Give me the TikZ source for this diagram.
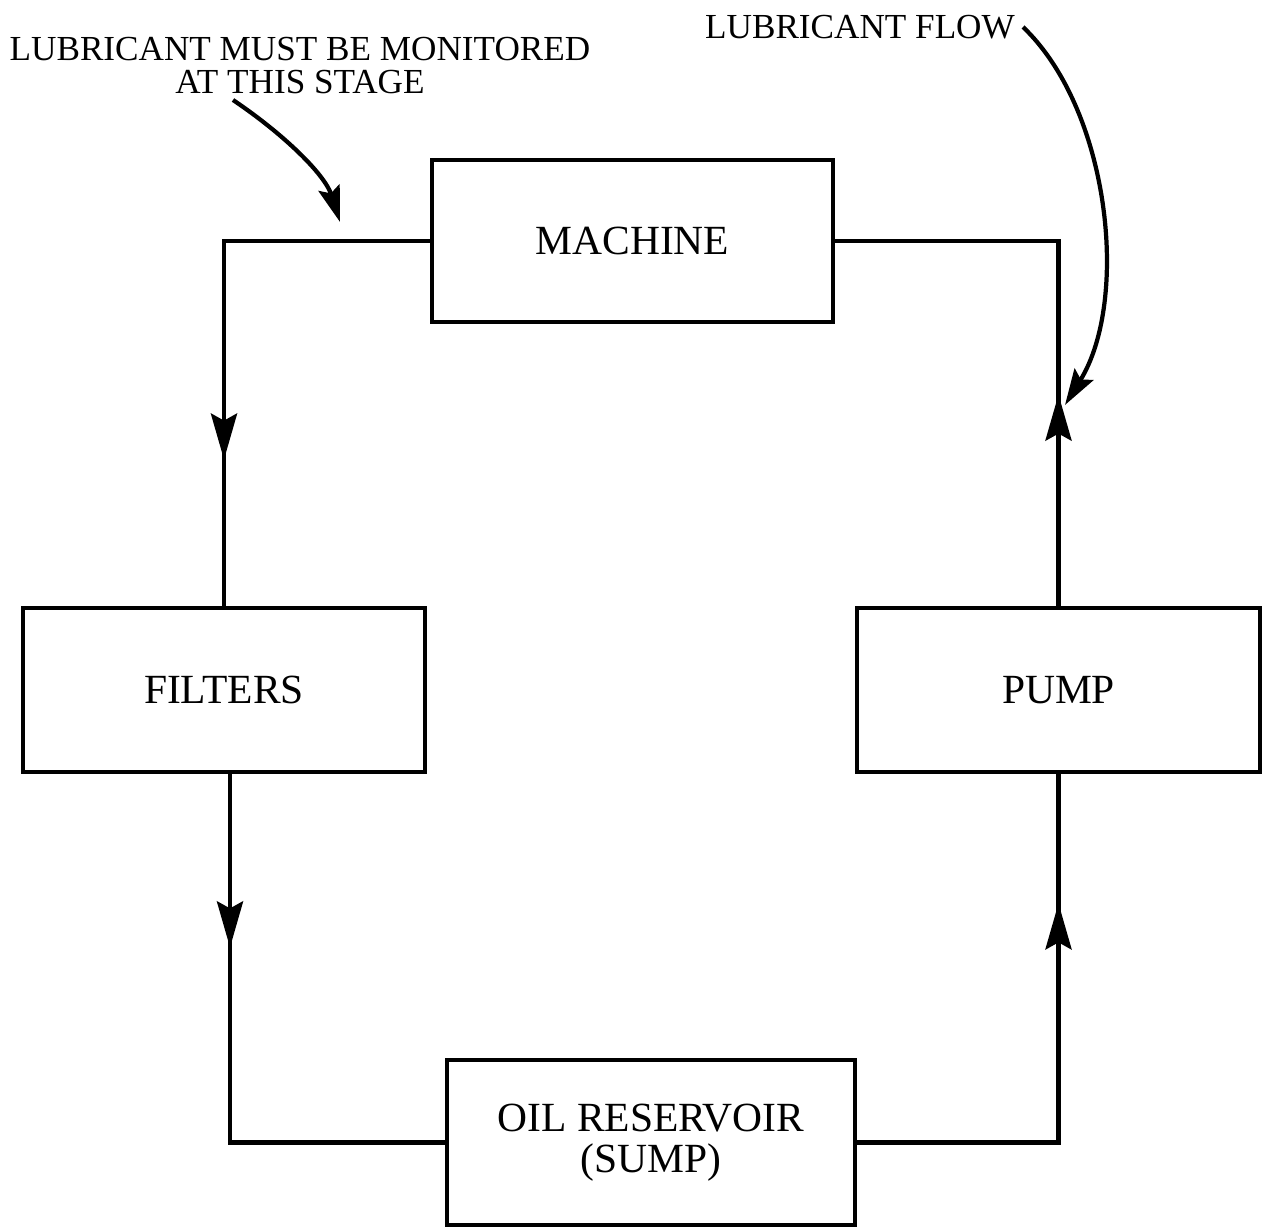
\documentclass[tikz,border=0pt]{standalone}
\usepackage{fontspec}
\setmainfont{Liberation Serif}
\usetikzlibrary{arrows.meta,decorations.markings}
\begin{document}
\begin{tikzpicture}[x=0.01cm,y=-0.01cm,
  box/.style={draw,line width=1.3pt,minimum width=4.02cm,minimum height=1.63cm,inner sep=0pt,
    font=\fontsize{11.8}{11.5}\selectfont,align=center},
  note/.style={inner sep=0pt,font=\fontsize{10}{9.5}\selectfont,align=center},
  flow/.style={line width=1.3pt},
  pointer/.style={line width=1.2pt,-{Stealth[length=3.6mm,width=2.2mm,inset=0.6mm]}},
  midarrow/.style={postaction={decorate},decoration={markings,
    mark=at position #1 with {\arrow{Stealth[length=4.6mm,width=2.6mm,inset=0.7mm]}}}}
]
\fill[white] (0,0) rectangle (1267,1228);
\useasboundingbox (0,0) rectangle (1267,1228);

\node[box,minimum width=4.01cm,minimum height=1.62cm] (machine) at (632.5,241) {MACHINE};
\node[box,minimum width=4.02cm,minimum height=1.64cm] (filters) at (224,690) {FILTERS};
\node[box,minimum width=4.03cm,minimum height=1.64cm] (pump) at (1058.5,690) {PUMP};
\node[box,minimum width=4.08cm,minimum height=1.65cm] (sump) at (651,1142.5) {OIL RESERVOIR\\(SUMP)};

\draw[flow,midarrow=4.24cm] (machine.west) -| (filters.north);
\draw[flow,midarrow=1.73cm] ([xshift=0.06cm]filters.south) |- (sump.west);
\draw[flow,midarrow=4.4cm] (sump.east) -| (pump.south);
\draw[flow,midarrow=2.11cm] (pump.north) |- (machine.east);

\node[note] (mon) at (300,65.5) {LUBRICANT MUST BE MONITORED\\AT THIS STAGE};
\coordinate (monstart) at (233,100);
\coordinate (montip) at (340,222);
\draw[pointer] (monstart) .. controls (285,135) and (325,175) .. (montip);

\node[note] (flowlbl) at (860,27) {LUBRICANT FLOW};
\coordinate (flowstart) at (1023,27);
\coordinate (flowtip) at (1065,405);
\draw[pointer] (flowstart) .. controls (1110,110) and (1130,300) .. (flowtip);
\end{tikzpicture}
\end{document}
